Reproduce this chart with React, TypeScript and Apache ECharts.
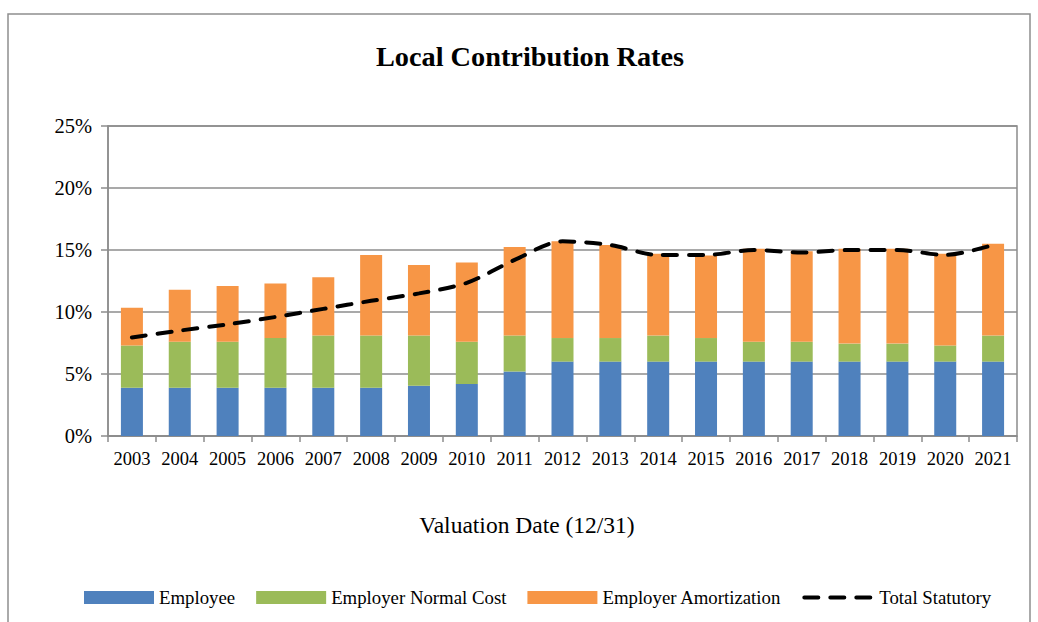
import React, { useEffect, useRef } from "react";
import * as echarts from "echarts";

const years = ["2003","2004","2005","2006","2007","2008","2009","2010","2011","2012","2013","2014","2015","2016","2017","2018","2019","2020","2021"];
const employee = [3.9,3.9,3.9,3.9,3.9,3.9,4.05,4.2,5.2,6.0,6.0,6.0,6.0,6.0,6.0,6.0,6.0,6.0,6.0];
const employerNormal = [3.4,3.7,3.7,4.0,4.2,4.2,4.05,3.4,2.9,1.9,1.9,2.1,1.9,1.6,1.6,1.45,1.45,1.3,2.1];
const employerAmort = [3.05,4.2,4.5,4.4,4.7,6.5,5.7,6.4,7.15,7.8,7.5,6.6,6.65,7.5,7.3,7.65,7.65,7.4,7.4];
const totalStatutory = [7.95,8.5,9.0,9.6,10.25,10.9,11.5,12.35,14.2,15.7,15.4,14.6,14.6,15.0,14.8,15.0,15.0,14.6,15.4];
const yTicks = [0, 5, 10, 15, 20, 25];

const FONT = "'Liberation Serif', 'Times New Roman', serif";

export default function App() {
  const ref = useRef<HTMLDivElement>(null);
  useEffect(() => {
    if (!ref.current) return;
    const chart = echarts.init(ref.current, null, { renderer: "svg" });
    chart.setOption({
      animation: false,
      backgroundColor: "#fff",
      textStyle: { fontFamily: FONT },
      graphic: [
        {
          type: "rect",
          shape: { x: 8, y: 14, width: 1022, height: 640 },
          style: { fill: "none", stroke: "#8f8f8f", lineWidth: 1.5 },
          silent: true,
        },
        {
          type: "text",
          x: 527,
          y: 525,
          style: {
            text: "Valuation Date (12/31)",
            font: "23.5px 'Liberation Serif', 'Times New Roman', serif",
            fill: "#000",
            align: "center",
            verticalAlign: "middle",
          },
          silent: true,
        },
      ],
      title: {
        text: "Local Contribution Rates",
        left: 525,
        textAlign: "center",
        top: 37,
        textStyle: { fontFamily: FONT, fontSize: 28.3, fontWeight: "bold", color: "#000" },
      },
      grid: {
        left: 108,
        right: 21,
        top: 126,
        bottom: 186,
        show: true,
        borderColor: "#8c8c8c",
        borderWidth: 1.5,
        backgroundColor: "transparent",
      },
      legend: {
        left: 79,
        top: 583,
        itemWidth: 70,
        itemHeight: 13,
        itemGap: 21,
        textStyle: { fontFamily: FONT, fontSize: 18.8, color: "#000" },
        data: [
          { name: "Employee", icon: "rect" },
          { name: "Employer Normal Cost", icon: "rect" },
          { name: "Employer Amortization", icon: "rect" },
          {
            name: "Total Statutory",
            itemStyle: { opacity: 0 },
            lineStyle: { color: "#000", width: 4, type: [14, 12], cap: "round" },
          },
        ],
      },
      xAxis: {
        type: "category",
        data: years,
        axisLine: { lineStyle: { color: "#8c8c8c", width: 1.5 } },
        axisTick: { show: true, alignWithLabel: false, length: 6, lineStyle: { color: "#8c8c8c", width: 1.5 } },
        axisLabel: { fontFamily: FONT, fontSize: 18.5, color: "#000", margin: 13, interval: 0 },
      },
      yAxis: {
        type: "value",
        min: yTicks[0],
        max: yTicks[yTicks.length - 1],
        interval: 5,
        axisLine: { show: true, lineStyle: { color: "#8c8c8c", width: 1.5 } },
        axisTick: { show: true, length: 7, lineStyle: { color: "#8c8c8c", width: 1.5 } },
        axisLabel: { fontFamily: FONT, fontSize: 20.5, color: "#000", margin: 16, formatter: "{value}%" },
        splitLine: { show: true, lineStyle: { color: "#8c8c8c", width: 1.5 } },
      },
      series: [
        {
          name: "Employee",
          type: "bar",
          stack: "total",
          data: employee,
          barWidth: "46%",
          itemStyle: { color: "#4F81BD" },
        },
        {
          name: "Employer Normal Cost",
          type: "bar",
          stack: "total",
          data: employerNormal,
          itemStyle: { color: "#9BBB59" },
        },
        {
          name: "Employer Amortization",
          type: "bar",
          stack: "total",
          data: employerAmort,
          itemStyle: { color: "#F79646" },
        },
        {
          name: "Total Statutory",
          type: "line",
          data: totalStatutory,
          symbol: "none",
          smooth: 0.3,
          z: 5,
          itemStyle: { color: "#000" },
          lineStyle: { color: "#000", width: 4, type: [14, 12], cap: "round" },
        },
      ],
    });
    return () => chart.dispose();
  }, []);
  return <div ref={ref} style={{ width: 1038, height: 622, position: "absolute", left: 0, top: 0 }} />;
}
